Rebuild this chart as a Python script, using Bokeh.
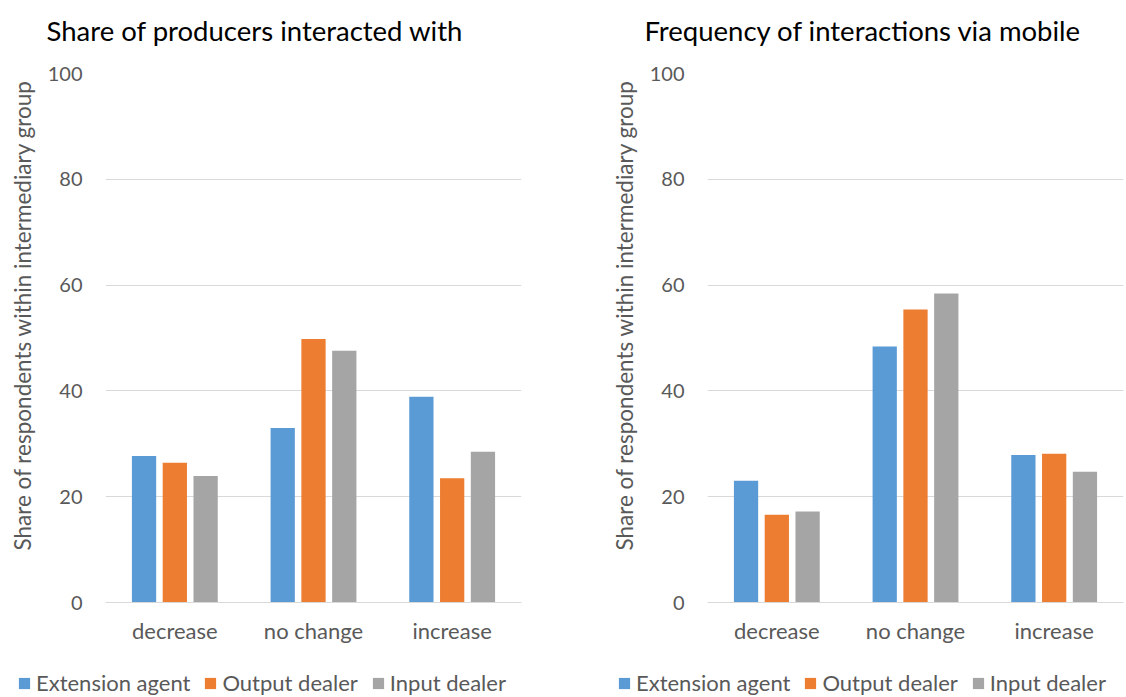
from bokeh.plotting import figure
from bokeh.models import ColumnDataSource, FactorRange, Range1d, FixedTicker, Legend, LegendItem, Title
from bokeh.transform import dodge
from bokeh.layouts import row, column
from bokeh.embed import file_html
from bokeh.resources import INLINE

categories = ["decrease", "no change", "increase"]
series_names = ["Extension agent", "Output dealer", "Input dealer"]
colors = ["#5B9BD5", "#ED7D31", "#A5A5A5"]
y_ticks = [0, 20, 40, 60, 80, 100]
y_label = "Share of respondents within intermediary group"

left_title = "Share of producers interacted with"
left_extension = [27.7, 33.0, 38.9]
left_output = [26.4, 49.8, 23.5]
left_input = [23.9, 47.6, 28.5]

right_title = "Frequency of interactions via mobile"
right_extension = [23.0, 48.4, 27.9]
right_output = [16.6, 55.4, 28.1]
right_input = [17.2, 58.4, 24.7]

FONT = "Lato"
GREY_TEXT = "#595959"
GRID = "#d9d9d9"
offsets = [-0.222, 0.0, 0.222]


def blank_strip(width, height, title=None):
    s = figure(width=width, height=height, x_range=Range1d(0, 1), y_range=Range1d(0, 1),
               x_axis_type=None, y_axis_type=None, title=title,
               min_border_left=0, min_border_right=0, min_border_top=0, min_border_bottom=0,
               output_backend="svg", toolbar_location=None)
    s.outline_line_color = None
    s.xgrid.grid_line_color = None
    s.ygrid.grid_line_color = None
    return s


def make_title(text, width, x):
    t = blank_strip(width, 60, title=text)
    t.title.align = "left"
    t.title.offset = x
    t.title.standoff = 22
    t.title.text_font = FONT
    t.title.text_font_size = "27.5px"
    t.title.text_font_style = "normal"
    t.title.text_color = "#000000"
    return t


def make_chart(ext, out, inp, width, border_left, border_right):
    src = ColumnDataSource(dict(cat=categories, s0=ext, s1=out, s2=inp))
    p = figure(x_range=FactorRange(factors=categories, range_padding=0),
               y_range=Range1d(0, 100),
               width=width, height=600,
               min_border_left=border_left, min_border_right=border_right,
               min_border_top=13, min_border_bottom=58,
               output_backend="svg", toolbar_location=None)
    p.outline_line_color = None
    p.background_fill_color = "white"
    p.border_fill_color = "white"

    for i, key in enumerate(["s0", "s1", "s2"]):
        p.vbar(x=dodge("cat", offsets[i], range=p.x_range), top=key, width=0.175,
               source=src, fill_color=colors[i], line_color=None)

    p.xgrid.grid_line_color = None
    p.ygrid.grid_line_color = GRID
    p.ygrid.grid_line_width = 1

    p.yaxis.ticker = FixedTicker(ticks=y_ticks)
    p.yaxis.axis_line_color = None
    p.yaxis.major_tick_line_color = None
    p.yaxis.minor_tick_line_color = None
    p.yaxis.major_tick_out = 0
    p.yaxis.major_label_standoff = 23
    p.yaxis.major_label_text_font = FONT
    p.yaxis.major_label_text_font_size = "20px"
    p.yaxis.major_label_text_color = GREY_TEXT

    p.xaxis.axis_line_color = GRID
    p.xaxis.axis_line_width = 1
    p.xaxis.major_tick_line_color = None
    p.xaxis.minor_tick_line_color = None
    p.xaxis.major_tick_out = 0
    p.xaxis.major_label_standoff = 14
    p.xaxis.major_label_text_font = FONT
    p.xaxis.major_label_text_font_size = "22px"
    p.xaxis.major_label_text_color = GREY_TEXT

    ylab = Title(text=y_label, align="left", vertical_align="top", offset=52, standoff=14,
                 text_font=FONT, text_font_size="22.5px", text_font_style="normal",
                 text_color=GREY_TEXT)
    p.add_layout(ylab, "left")
    return p


def make_legend(width, legend_x):
    lp = blank_strip(width, 36)
    items = []
    for i in range(3):
        # glyph kept outside the visible range; only its legend swatch shows
        r = lp.vbar(x=[10], top=[1], width=0.1, fill_color=colors[i], line_color=None)
        items.append(LegendItem(label=series_names[i], renderers=[r]))
    legend = Legend(items=items, location=(legend_x, 0), orientation="horizontal",
                    glyph_width=14, glyph_height=14, label_standoff=5, spacing=13,
                    padding=0, margin=0, border_line_color=None, background_fill_alpha=0,
                    label_text_font=FONT, label_text_font_size="22px", label_text_color=GREY_TEXT)
    lp.add_layout(legend, "center")
    return lp


t1 = make_title(left_title, 600, 46)
t2 = make_title(right_title, 525, 44)
p1 = make_chart(left_extension, left_output, left_input, 600, 105, 79)
p2 = make_chart(right_extension, right_output, right_input, 525, 107, 2)
l1 = make_legend(600, 17)
l2 = make_legend(525, 17)

layout = column(row(t1, t2), row(p1, p2), row(l1, l2))
open("out.html", "w").write(file_html(layout, INLINE))
